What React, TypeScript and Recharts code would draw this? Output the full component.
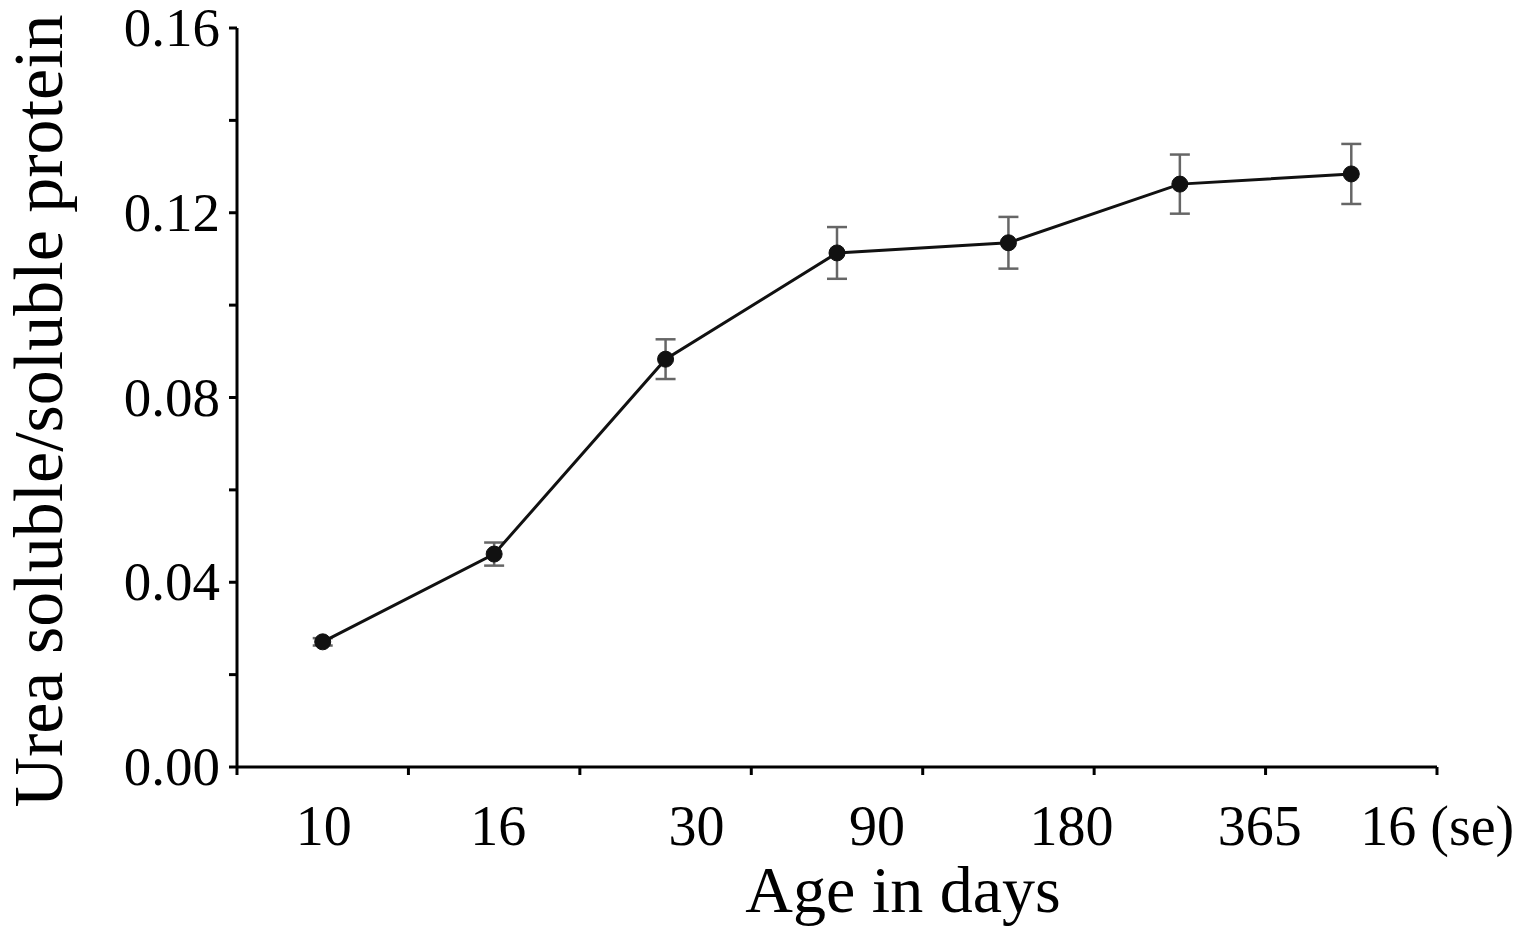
import React from 'react';
import { LineChart, Line, XAxis, YAxis, ErrorBar, Label } from 'recharts';

const ages = ['10', '16', '30', '90', '180', '365', '16 (se)'];
const ratio = [0.0271, 0.0461, 0.0883, 0.1113, 0.1135, 0.1262, 0.1284];
const stdErr = [0.0008, 0.0025, 0.0043, 0.0056, 0.0056, 0.0064, 0.0065];
const yTicks = [0, 0.02, 0.04, 0.06, 0.08, 0.1, 0.12, 0.14, 0.16];
const yLabelled = [0, 0.04, 0.08, 0.12, 0.16];

const data = ages.map((age, i) => ({ age, ratio: ratio[i], err: stdErr[i] }));

const W = 1526;
const H = 938;
const LEFT = 237;
const RIGHT = 89;
const TOP = 28;
const XAXIS_H = 171;
const BAND = (W - LEFT - RIGHT) / ages.length;
// labels in the original drift to the right of their points
const labelShift = [1, 4, 31, 40, 63, 80, 86];
const FONT = '"Liberation Serif", "Times New Roman", serif';

const XTick = (props: any) => {
  const { x, y, payload, index } = props;
  const half = BAND / 2;
  return (
    <g>
      <line x1={x - half} y1={y - 8} x2={x - half} y2={y} stroke="#000" strokeWidth={3} />
      {index === ages.length - 1 && (
        <line x1={x + half} y1={y - 8} x2={x + half} y2={y} stroke="#000" strokeWidth={3} />
      )}
      <text x={x + labelShift[index]} y={y} dy={70} textAnchor="middle" fontFamily={FONT} fontSize={56} fill="#000">
        {payload.value}
      </text>
    </g>
  );
};

const YTick = (props: any) => {
  const { x, y, payload } = props;
  const v = payload.value;
  if (!yLabelled.some((t) => Math.abs(t - v) < 1e-9)) return <g />;
  return (
    <text x={x} y={y} dy={18} textAnchor="end" fontFamily={FONT} fontSize={55} fill="#000">
      {v.toFixed(2)}
    </text>
  );
};

export default function App() {
  return (
    <div style={{ position: 'absolute', left: 0, top: 0, background: '#fff' }}>
      <LineChart width={W} height={H} data={data} margin={{ top: TOP, right: RIGHT, bottom: 0, left: 0 }}>
        <XAxis
          dataKey="age"
          type="category"
          scale="band"
          height={XAXIS_H}
          stroke="#000"
          axisLine={{ stroke: '#000', strokeWidth: 3 }}
          tickLine={false}
          tickSize={8}
          tickMargin={0}
          interval={0}
          tick={<XTick />}
        >
          <Label
            content={() => (
              <text x={903} y={912} textAnchor="middle" fontFamily={FONT} fontSize={66} fill="#000">
                Age in days
              </text>
            )}
          />
        </XAxis>
        <YAxis
          width={LEFT}
          type="number"
          domain={[0, 0.16]}
          ticks={yTicks}
          interval={0}
          axisLine={{ stroke: '#000', strokeWidth: 3 }}
          tickLine={{ stroke: '#000', strokeWidth: 3 }}
          tickSize={8}
          tickMargin={9}
          tick={<YTick />}
        >
          <Label
            content={() => (
              <text
                x={62}
                y={411}
                transform="rotate(-90 62 411)"
                textAnchor="middle"
                fontFamily={FONT}
                fontSize={70}
                fill="#000"
              >
                Urea soluble/soluble protein
              </text>
            )}
          />
        </YAxis>
        <Line
          dataKey="ratio"
          type="linear"
          stroke="#111"
          strokeWidth={3}
          dot={{ r: 8, fill: '#111', stroke: '#111', strokeWidth: 1 }}
          activeDot={false}
          isAnimationActive={false}
        >
          <ErrorBar dataKey="err" stroke="#666" strokeWidth={2.5} width={10} isAnimationActive={false} />
        </Line>
      </LineChart>
    </div>
  );
}
